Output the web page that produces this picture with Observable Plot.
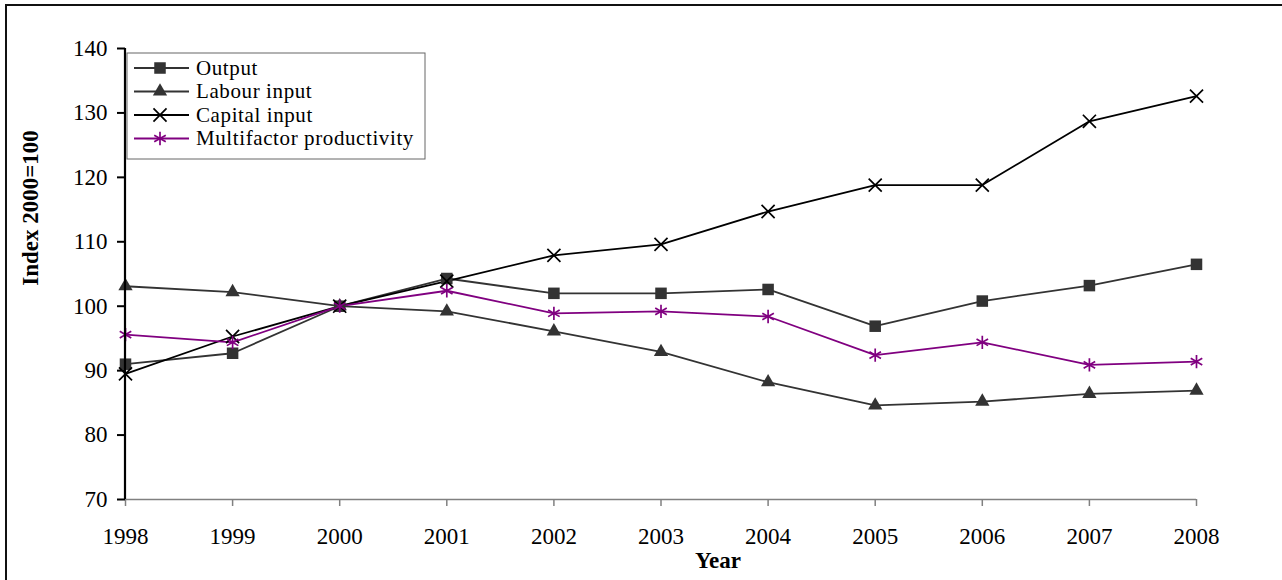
<!DOCTYPE html>
<html><head><meta charset="utf-8">
<script src="https://cdn.jsdelivr.net/npm/d3@7"></script>
<script src="https://cdn.jsdelivr.net/npm/@observablehq/plot@0.6"></script>
<style>body{margin:0;background:#fff} svg{display:block}</style>
</head><body><div id="chart"></div>
<script>
const years = [1998, 1999, 2000, 2001, 2002, 2003, 2004, 2005, 2006, 2007, 2008];
const output  = [91.0, 92.7, 100.0, 104.3, 102.0, 102.0, 102.6, 96.9, 100.8, 103.2, 106.5];
const labour  = [103.1, 102.2, 100.0, 99.2, 96.1, 92.9, 88.2, 84.6, 85.2, 86.4, 86.9];
const capital = [89.5, 95.3, 100.0, 103.9, 107.9, 109.6, 114.7, 118.8, 118.8, 128.7, 132.6];
const mfp     = [95.6, 94.4, 100.0, 102.4, 98.9, 99.2, 98.4, 92.4, 94.4, 90.9, 91.4];
const seriesNames = ["Output", "Labour input", "Capital input", "Multifactor productivity"];
const seriesColors = ["#333333", "#333333", "#000000", "#800080"];
const seriesSymbols = ["square", "triangle", "times", "asterisk"];
const yTicks = [70, 80, 90, 100, 110, 120, 130, 140];
const xTitle = "Year";
const yTitle = "Index 2000=100";

const seriesValues = [output, labour, capital, mfp];
const rows = [];
seriesValues.forEach((vals, i) => vals.forEach((v, j) => rows.push({series: seriesNames[i], year: years[j], value: v})));

const symR = {"Output": 6.5, "Labour input": 5.3, "Capital input": 6.0, "Multifactor productivity": 6.3};
const filled = {"Output": true, "Labour input": true, "Capital input": false, "Multifactor productivity": false};

const dotMarks = seriesNames.map((name, i) => {
  const data = rows.filter(d => d.series === name);
  return filled[name]
    ? Plot.dot(data, {x: "year", y: "value", symbol: () => name, fill: seriesColors[i], stroke: "none", r: symR[name]})
    : Plot.dot(data, {x: "year", y: "value", symbol: () => name, fill: "none", stroke: seriesColors[i], strokeWidth: 1.7, r: symR[name]});
});

const FONT = "'Liberation Serif', 'Times New Roman', serif";
const chart = Plot.plot({
  width: 1282, height: 580,
  marginLeft: 125, marginRight: 86, marginTop: 48, marginBottom: 81,
  style: {fontFamily: FONT, fontSize: "23px", color: "#000", background: "#fff"},
  x: {domain: [1998, 2008]},
  y: {domain: [70, 140]},
  symbol: {domain: seriesNames, range: seriesSymbols},
  color: {domain: seriesNames, range: seriesColors},
  marks: [
    Plot.ruleY([70], {stroke: "#808080", strokeWidth: 1.5}),
    Plot.axisX({ticks: years, tickFormat: "d", tickSize: 7, tickPadding: 21, stroke: "#808080", strokeWidth: 1.5, fill: "#000", fontSize: 23, label: null}),
    Plot.axisY({ticks: yTicks, tickSize: 8, tickPadding: 10, strokeWidth: 2, stroke: "#000", fill: "#000", fontSize: 23, label: null}),
    Plot.line(rows, {x: "year", y: "value", z: "series", stroke: "series", strokeWidth: 1.8}),
    ...dotMarks
  ]
});
document.getElementById("chart").appendChild(chart);

const svg = d3.select(chart);
// outer border (left and top visible)
svg.append("rect").attr("x", 6).attr("y", 5).attr("width", 1400).attr("height", 700)
  .attr("fill", "none").attr("stroke", "#111").attr("stroke-width", 2);

// axis titles
svg.append("text").text(xTitle).attr("x", 718).attr("y", 568).attr("text-anchor", "middle")
  .attr("font-weight", "bold").attr("font-size", 23).attr("font-family", FONT);
svg.append("text").text(yTitle).attr("transform", "translate(38,208) rotate(-90)").attr("text-anchor", "middle")
  .attr("font-weight", "bold").attr("font-size", 23).attr("font-family", FONT);

// legend
const lg = svg.append("g").attr("font-family", FONT).attr("font-size", 21).attr("text-anchor", "start");
lg.append("rect").attr("x", 127).attr("y", 53).attr("width", 298).attr("height", 106)
  .attr("fill", "#fff").attr("stroke", "#666").attr("stroke-width", 1);
const symMap = {square: d3.symbolSquare, triangle: d3.symbolTriangle, times: d3.symbolTimes, asterisk: d3.symbolAsterisk};
seriesNames.forEach((name, i) => {
  const cy = 68 + i * 23.5;
  lg.append("line").attr("x1", 134).attr("x2", 189).attr("y1", cy).attr("y2", cy)
    .attr("stroke", seriesColors[i]).attr("stroke-width", 1.8);
  const r = symR[name];
  const p = d3.symbol(symMap[seriesSymbols[i]], r * r * Math.PI)();
  const s = lg.append("path").attr("d", p).attr("transform", `translate(160,${cy})`);
  if (filled[name]) s.attr("fill", seriesColors[i]);
  else s.attr("fill", "none").attr("stroke", seriesColors[i]).attr("stroke-width", 1.7);
  lg.append("text").text(name).attr("x", 196).attr("y", cy).attr("dy", "0.33em")
    .attr("text-anchor", "start").attr("letter-spacing", "0.6px");
});
// y axis line drawn on top of legend box
svg.append("line").attr("x1", 125).attr("x2", 125).attr("y1", 48).attr("y2", 499)
  .attr("stroke", "#000").attr("stroke-width", 2.2);
</script></body></html>
